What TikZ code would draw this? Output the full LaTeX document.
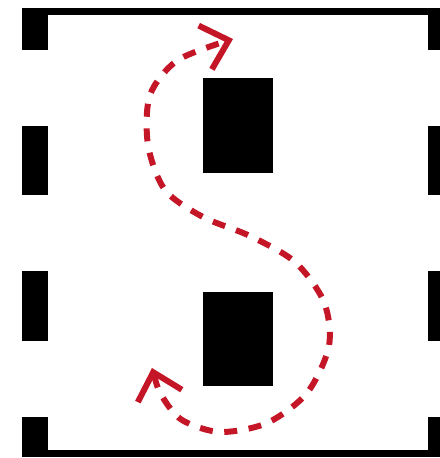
\documentclass[tikz,border=0pt]{standalone}
\usepackage{tikz}
\usetikzlibrary{arrows.meta}
\definecolor{pathred}{RGB}{196,22,38}

\begin{document}
\begin{tikzpicture}[
    x=0.02cm, y=-0.02cm,
    wall/.style={fill=black},
    column/.style={fill=black, inner sep=0pt, minimum width=1.4cm, minimum height=1.9cm},
    route/.style={draw=pathred, line width=3.4pt, dash pattern=on 7.4pt off 6.6pt,
      {Straight Barb[length=14pt, width=26pt, sharp]}-{Straight Barb[length=14pt, width=26pt, sharp]}}
  ]
    \useasboundingbox (0,0) rectangle (440,458);
    % outer walls
    \fill[wall] (22,8) rectangle (440,15);
    \fill[wall] (22,450) rectangle (440,457);
    \fill[wall] (22,8) rectangle (48,50);
    \fill[wall] (22,126) rectangle (48,195);
    \fill[wall] (22,271) rectangle (48,341);
    \fill[wall] (22,417) rectangle (48,457);
    \fill[wall] (428,8) rectangle (440,50);
    \fill[wall] (428,126) rectangle (440,195);
    \fill[wall] (428,271) rectangle (440,341);
    \fill[wall] (428,417) rectangle (440,457);
    % columns
    \node[column] (upper) at (238,125.5) {};
    \node[column] (lower) at (238,339) {};
    % route round the columns
    \coordinate (start) at (152,368);
    \coordinate (finish) at (233,39);
    \draw[route] plot[smooth] coordinates {(start) (162,396) (182,420) (220,432) (267,423)
      (307,393) (329,346) (324,302) (295,262) (250,236) (203,217) (165,190) (148,145)
      (150,95) (178,60) (finish)};
\end{tikzpicture}
\end{document}
